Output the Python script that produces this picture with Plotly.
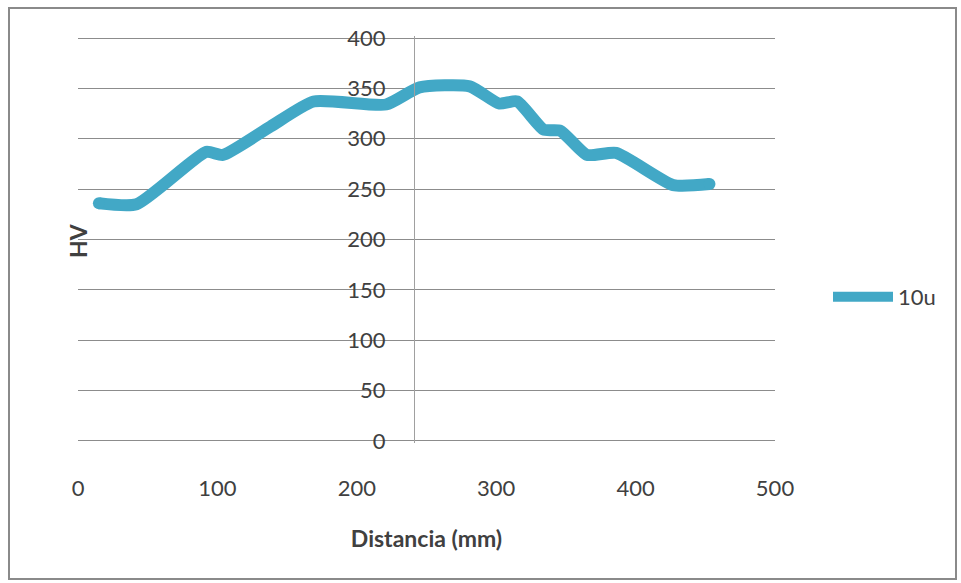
import plotly.graph_objects as go

distancia = [15, 42, 92, 104, 138, 169, 221, 245, 281, 302, 315, 334, 346, 365, 386, 427, 453]
hv = [236, 235, 287, 284, 312, 337, 334, 351, 352, 335, 337, 309, 308, 284, 286, 254, 255]
x_ticks = [0, 100, 200, 300, 400, 500]
y_ticks = [0, 50, 100, 150, 200, 250, 300, 350, 400]
series_name = "10u"

W, H = 961, 583
L, R, T, B = 78, 775, 36, 443
pw, ph = R - L, B - T

def px(xp):
    return (xp - L) / pw

def py(yp):
    return (B - yp) / ph

color = "#42a8c6"
fig = go.Figure()
fig.add_trace(go.Scatter(
    x=distancia, y=hv, mode="lines", name=series_name,
    line=dict(color=color, width=12, shape="spline", smoothing=0.55),
))
# round end caps
fig.add_trace(go.Scatter(
    x=[distancia[0], distancia[-1]], y=[hv[0], hv[-1]], mode="markers",
    marker=dict(color=color, size=12, line=dict(width=0)),
    showlegend=False, hoverinfo="skip",
))

font_family = "Lato, 'Open Sans', sans-serif"
fig.update_layout(
    width=W, height=H,
    margin=dict(l=L, r=W - R, t=T, b=H - B),
    paper_bgcolor="white", plot_bgcolor="white",
    font=dict(family=font_family, size=22, color="#404040"),
    showlegend=True,
    legend=dict(x=px(828), y=py(297), xanchor="left", yanchor="middle",
                bgcolor="rgba(0,0,0,0)", itemwidth=60,
                font=dict(size=22, color="#404040")),
    xaxis=dict(range=[0, 500], tickvals=x_ticks, showgrid=False, zeroline=False,
               showline=False, ticks="", ticklabelstandoff=30,
               tickfont=dict(size=22),
               title=dict(text="<b>Distancia (mm)</b>", standoff=30,
                          font=dict(size=23, color="#404040"))),
    yaxis=dict(range=[-2, 402], tickvals=y_ticks, showgrid=True, gridcolor="#8c8c8c",
               gridwidth=1, zeroline=False, showline=True, linecolor="#a0a0a0",
               linewidth=1, ticks="", anchor="free", position=px(414),
               ticklabelstandoff=24, tickfont=dict(size=22)),
    shapes=[dict(type="rect", xref="paper", yref="paper",
                 x0=px(9), x1=px(956), y0=py(579), y1=py(8),
                 line=dict(color="#8a8a8a", width=2), layer="below")],
    annotations=[dict(text="<b>HV</b>", xref="paper", yref="paper",
                      x=px(62), y=py(241), showarrow=False, textangle=-90,
                      font=dict(size=23, color="#404040"))],
)

fig.write_html("out.html")
